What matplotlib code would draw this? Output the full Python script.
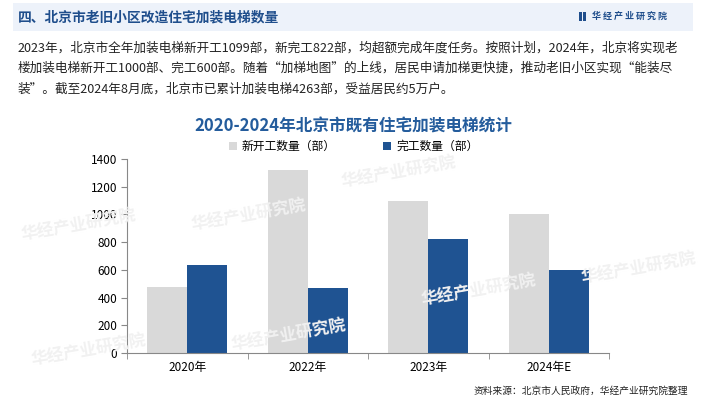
import numpy as np
import matplotlib.pyplot as plt
from matplotlib.patches import Rectangle

plt.rcParams['font.family'] = ['Noto Sans CJK SC', 'DejaVu Sans']

# 数据
years = ['2020年', '2022年', '2023年', '2024年E']
new_start = [476, 1323, 1099, 1000]
completed = [636, 469, 822, 600]
yticks = [0, 200, 400, 600, 800, 1000, 1200, 1400]

fig = plt.figure(figsize=(7.05, 3.99), dpi=100, facecolor='w')

# 顶部标题栏
fig.patches.append(Rectangle((13/705, 1-31/399), 680/705, 28/399, transform=fig.transFigure,
                             facecolor='#EDF2FA', edgecolor='none', zorder=0))
fig.text(18/705, 1-17/399, '四、北京市老旧小区改造住宅加装电梯数量', fontsize=9.9, fontweight='bold',
         color='#1F4E8C', va='center', ha='left')
fig.patches.append(Rectangle((579/705, 1-21/399), 2.5/705, 9/399, transform=fig.transFigure,
                             facecolor='#1F4E8C', edgecolor='none'))
fig.patches.append(Rectangle((583/705, 1-21/399), 2.5/705, 9/399, transform=fig.transFigure,
                             facecolor='#1F4E8C', edgecolor='none'))
fig.text(592/705, 1-16.5/399, '华 经 产 业 研 究 院', fontsize=6.5, fontweight='bold',
         color='#1F4E8C', va='center', ha='left')

# 说明文字
lines = ['2023年，北京市全年加装电梯新开工1099部，新完工822部，均超额完成年度任务。按照计划，2024年，北京将实现老',
         '楼加装电梯新开工1000部、完工600部。随着“加梯地图”的上线，居民申请加梯更快捷，推动老旧小区实现“能装尽',
         '装”。截至2024年8月底，北京市已累计加装电梯4263部，受益居民约5万户。']
for k, s in enumerate(lines):
    fig.text(18/705, 1-(48+20.5*k)/399, s, fontsize=9.1, color='#222222', va='center', ha='left')

# 水印
for (wx, wy) in [(190, 215), (340, 172), (580, 268), (20, 225), (30, 350), (230, 335), (420, 290)]:
    fig.text(wx/705, 1-wy/399, '华经产业研究院', fontsize=12, fontweight='bold', color='#F1F1F1',
             rotation=10, ha='left', va='center', zorder=0)

# 图表标题
fig.text(353/705, 1-127/399, '2020-2024年北京市既有住宅加装电梯统计', fontsize=12, fontweight='bold',
         color='#245C9C', ha='center', va='center')

ax = fig.add_axes([127/705, 1-353/399, 482/705, 194/399])
ax.patch.set_alpha(0)
x = np.arange(len(years))
w = 1/3
ax.bar(x - w/2, new_start, width=w, color='#D9D9D9', label='新开工数量（部）', zorder=2)
ax.bar(x + w/2, completed, width=w, color='#1F5392', label='完工数量（部）', zorder=2)

ax.set_xlim(-0.5, len(years) - 0.5)
ax.set_ylim(0, 1400)
ax.set_yticks(yticks)
ax.set_yticklabels([str(v) for v in yticks], fontsize=8.5)
ax.set_xticks(x)
ax.set_xticklabels(years, fontsize=8.5)
ax.set_xticks(np.arange(-0.5, len(years)), minor=True)
ax.tick_params(axis='x', which='major', length=0, pad=6)
ax.tick_params(axis='x', which='minor', length=4, color='#888888')
ax.tick_params(axis='y', length=4, color='#888888', pad=3)
for s in ['top', 'right']:
    ax.spines[s].set_visible(False)
for s in ['left', 'bottom']:
    ax.spines[s].set_color('#888888')

ax.legend(loc='lower center', bbox_to_anchor=(0.47, 1.0), ncol=2, frameon=False, fontsize=8.5,
          handlelength=0.7, handleheight=0.7, columnspacing=4, handletextpad=0.4, borderaxespad=0.1)

fig.text(688/705, 1-391/399, '资料来源：北京市人民政府，华经产业研究院整理', fontsize=7, color='#222222',
         ha='right', va='center')

plt.savefig('out.png', dpi=100)
